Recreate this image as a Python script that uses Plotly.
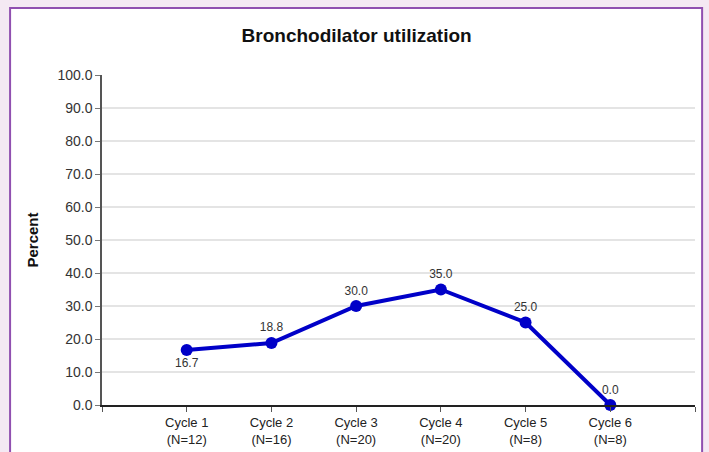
import plotly.graph_objects as go

categories = ["Cycle 1<br>(N=12)", "Cycle 2<br>(N=16)", "Cycle 3<br>(N=20)",
              "Cycle 4<br>(N=20)", "Cycle 5<br>(N=8)", "Cycle 6<br>(N=8)"]
values = [16.7, 18.8, 30.0, 35.0, 25.0, 0.0]
label_pos = ["bottom center", "top center", "top center", "top center", "top center", "top center"]
y_ticks = [0, 10, 20, 30, 40, 50, 60, 70, 80, 90, 100]

xpos = list(range(1, len(categories) + 1))

fig = go.Figure()
fig.add_trace(go.Scatter(
    x=xpos, y=values, mode="lines+markers+text",
    line=dict(color="#0000C8", width=4),
    marker=dict(color="#0000C8", size=12),
    text=[f"{v:.1f}" for v in values], textposition=label_pos,
    textfont=dict(family="Liberation Sans, Arial, sans-serif", size=12, color="#333333"),
    cliponaxis=False, showlegend=False, hoverinfo="skip"))

fig.update_layout(
    width=709, height=452,
    paper_bgcolor="#f4e9f3", plot_bgcolor="white",
    margin=dict(l=102, r=14, t=75, b=47),
    title=dict(text="<b>Bronchodilator utilization</b>", x=0.503, xanchor="center",
               y=0.922, yanchor="middle",
               font=dict(family="Liberation Sans Narrow, Arial Narrow, sans-serif", size=19, color="#111111")),
    shapes=[dict(type="rect", xref="paper", yref="paper", x0=-0.155, x1=1.012, y0=-0.2, y1=1.203,
                 line=dict(color="#9050b0", width=2), fillcolor="white", layer="below")],
    xaxis=dict(range=[0, 7], tickvals=[0] + xpos + [7], ticktext=[""] + categories + [""],
               automargin=False,
               showgrid=False, zeroline=False, showline=True, linecolor="#222222", linewidth=1.5,
               ticks="outside", ticklen=5, tickcolor="#555555",
               tickfont=dict(family="Liberation Sans Narrow, Arial Narrow, sans-serif", size=13, color="#222222")),
    yaxis=dict(range=[0, 100], tickvals=y_ticks, ticktext=[f"{v:.1f}" for v in y_ticks],
               showgrid=True, gridcolor="#e4e4e4", gridwidth=1.5, zeroline=False,
               showline=True, linecolor="#555555", linewidth=1.5,
               ticks="outside", ticklen=5, tickcolor="#777777",
               tickfont=dict(family="Liberation Sans, Arial, sans-serif", size=14, color="#333333"),
               title=dict(text="<b>Percent</b>", standoff=15,
                          font=dict(family="Liberation Sans, Arial, sans-serif", size=15, color="#111111"))),
)

fig.write_html("out.html", config={"displayModeBar": False},
               post_script="document.body.style.margin='0';document.body.style.background='#f4e9f3';")
